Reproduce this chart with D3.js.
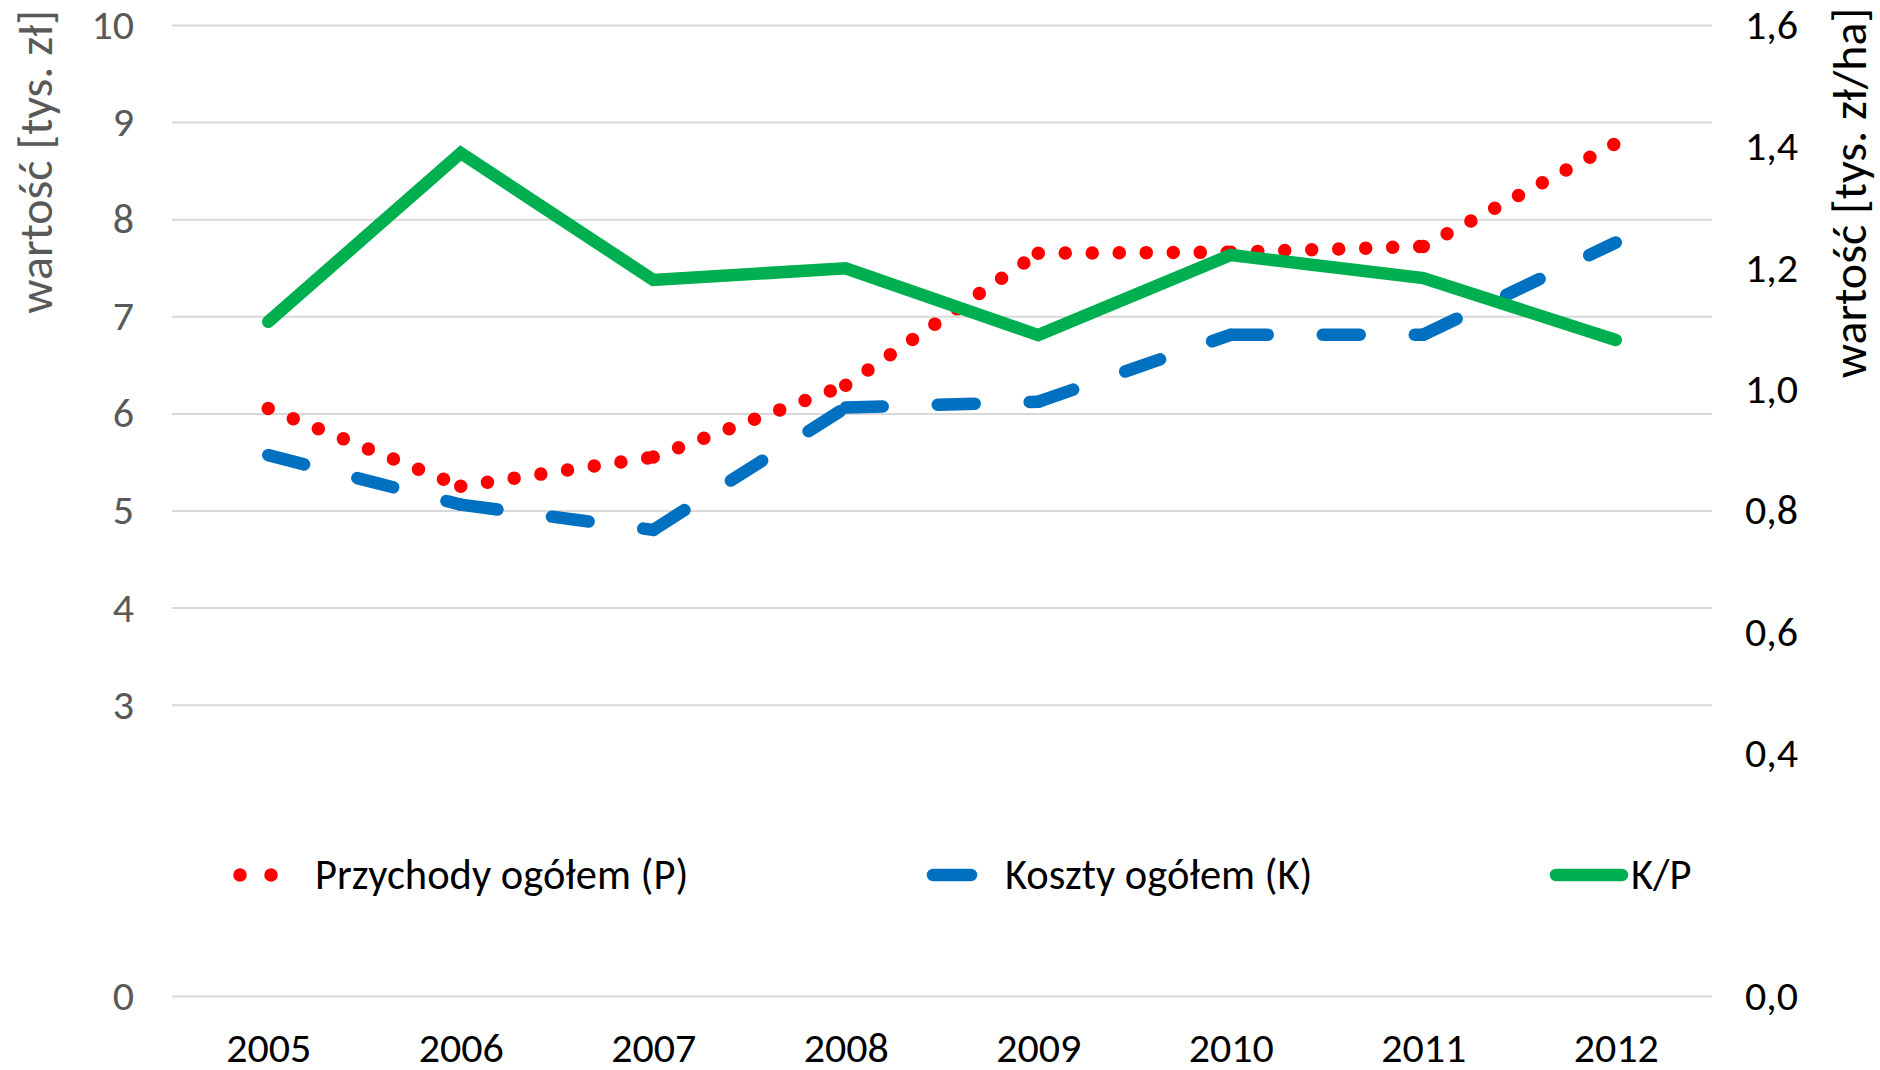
<!DOCTYPE html>
<html>
<head>
<meta charset="utf-8">
<script src="https://cdn.jsdelivr.net/npm/d3@7"></script>
<style>
    body { margin: 0; background: #fff; }
    svg text { font-family: Carlito, "Liberation Sans Narrow", "Liberation Sans", sans-serif; }
</style>
</head>
<body>
<svg class="chart"></svg>
<script>

var years = ["2005", "2006", "2007", "2008", "2009", "2010", "2011", "2012"];
var przychody = [6.05, 5.25, 5.55, 6.29, 7.65, 7.66, 7.72, 8.78]; // left axis, tys. zł
var koszty = [5.57, 5.06, 4.80, 6.06, 6.12, 6.81, 6.81, 7.76];    // left axis, tys. zł
var kp = [1.111, 1.389, 1.180, 1.199, 1.089, 1.221, 1.183, 1.081]; // right axis, tys. zł/ha
var leftTicks = [0, 3, 4, 5, 6, 7, 8, 9, 10];          // 1 and 2 sit under the legend
var rightTicks = [0, 0.4, 0.6, 0.8, 1.0, 1.2, 1.4, 1.6]; // 0,2 sits under the legend
var legendNames = ["Przychody ogółem (P)", "Koszty ogółem (K)", "K/P"];

window.onload = function () {

    var width = 1880;
    var height = 1070;
    var left = 172, right = 1712, top = 25, bottom = 996; // plot area

    var svg = d3.select("svg.chart")
        .attr("width", width)
        .attr("height", height);

    var x = d3.scalePoint().domain(years).range([left, right]).padding(0.5);
    var yLeft = d3.scaleLinear().domain([0, 10]).range([bottom, top]);
    var yRight = d3.scaleLinear().domain([0, 1.6]).range([bottom, top]);

    // gridlines come from the left axis, drawn as long ticks
    var grid = svg.append("g")
        .attr("transform", "translate(" + left + ",0)")
        .call(d3.axisRight(yLeft).tickValues(leftTicks).tickSize(right - left).tickFormat(""));
    grid.select(".domain").remove();
    grid.selectAll("line").attr("stroke", "#d9d9d9").attr("stroke-width", 2);

    var leftAxis = svg.append("g")
        .attr("transform", "translate(" + left + ",0)")
        .call(d3.axisLeft(yLeft).tickValues(leftTicks).tickSize(0).tickPadding(38));
    leftAxis.select(".domain").remove();
    leftAxis.selectAll("text").attr("fill", "#595959").attr("font-size", 42);

    var rightAxis = svg.append("g")
        .attr("transform", "translate(" + right + ",0)")
        .call(d3.axisRight(yRight).tickValues(rightTicks).tickSize(0).tickPadding(33)
            .tickFormat(function (d) { return d3.format(".1f")(d).replace(".", ","); }));
    rightAxis.select(".domain").remove();
    rightAxis.selectAll("text").attr("fill", "#000").attr("font-size", 42);

    var xAxis = svg.append("g")
        .attr("transform", "translate(0," + bottom + ")")
        .call(d3.axisBottom(x).tickSize(0).tickPadding(36));
    xAxis.select(".domain").remove();
    xAxis.selectAll("text").attr("fill", "#000").attr("font-size", 42);

    svg.append("text") // left axis title
        .attr("transform", "translate(52,162) rotate(-90)")
        .attr("text-anchor", "middle")
        .attr("fill", "#595959")
        .attr("font-size", 48)
        .text("wartość [tys. zł]");

    svg.append("text") // right axis title
        .attr("transform", "translate(1866,193) rotate(-90)")
        .attr("text-anchor", "middle")
        .attr("fill", "#000")
        .attr("font-size", 48)
        .text("wartość [tys. zł/ha]");

    // Excel restarts the dash pattern on every segment, so each segment is its own path
    function drawSeries(values, yScale, color, width, dash) {
        var line = d3.line()
            .x(function (d) { return x(d.year); })
            .y(function (d) { return yScale(d.value); });
        var pts = years.map(function (y, i) { return { year: y, value: values[i] }; });
        var g = svg.append("g");
        if (!dash) {
            g.append("path").attr("d", line(pts))
                .attr("fill", "none").attr("stroke", color).attr("stroke-width", width)
                .attr("stroke-linecap", "round").attr("stroke-linejoin", "miter");
            return;
        }
        for (var i = 0; i < pts.length - 1; ++i) {
            g.append("path").attr("d", line([pts[i], pts[i + 1]]))
                .attr("fill", "none").attr("stroke", color).attr("stroke-width", width)
                .attr("stroke-linecap", "round")
                .attr("stroke-dasharray", dash);
        }
    }

    drawSeries(przychody, yLeft, "#ff0000", 13.5, "0,27");
    drawSeries(koszty, yLeft, "#0070c0", 12.5, "37,55");
    drawSeries(kp, yRight, "#00b050", 12.5, null);

    // legend
    var legendY = 875;
    var lg = svg.append("g");
    lg.append("line").attr("x1", 240).attr("x2", 263).attr("y1", legendY).attr("y2", legendY)
        .attr("stroke", "#ff0000").attr("stroke-width", 13.5).attr("stroke-linecap", "round").attr("stroke-dasharray", "0,23");
    lg.append("line").attr("x1", 271).attr("x2", 294).attr("y1", legendY).attr("y2", legendY)
        .attr("stroke", "#ff0000").attr("stroke-width", 13.5).attr("stroke-linecap", "round").attr("stroke-dasharray", "0,23");
    lg.append("line").attr("x1", 933).attr("x2", 971).attr("y1", legendY).attr("y2", legendY)
        .attr("stroke", "#0070c0").attr("stroke-width", 12.5).attr("stroke-linecap", "round");
    lg.append("line").attr("x1", 1556).attr("x2", 1622).attr("y1", legendY).attr("y2", legendY)
        .attr("stroke", "#00b050").attr("stroke-width", 12.5).attr("stroke-linecap", "round");

    var textX = [315, 1005, 1631];
    lg.selectAll("text.leg").data(legendNames).enter().append("text")
        .attr("class", "leg")
        .attr("x", function (d, i) { return textX[i]; })
        .attr("y", 889)
        .attr("font-size", 42.5)
        .attr("fill", "#000")
        .text(function (d) { return d; });
};
</script>
</body>
</html>
